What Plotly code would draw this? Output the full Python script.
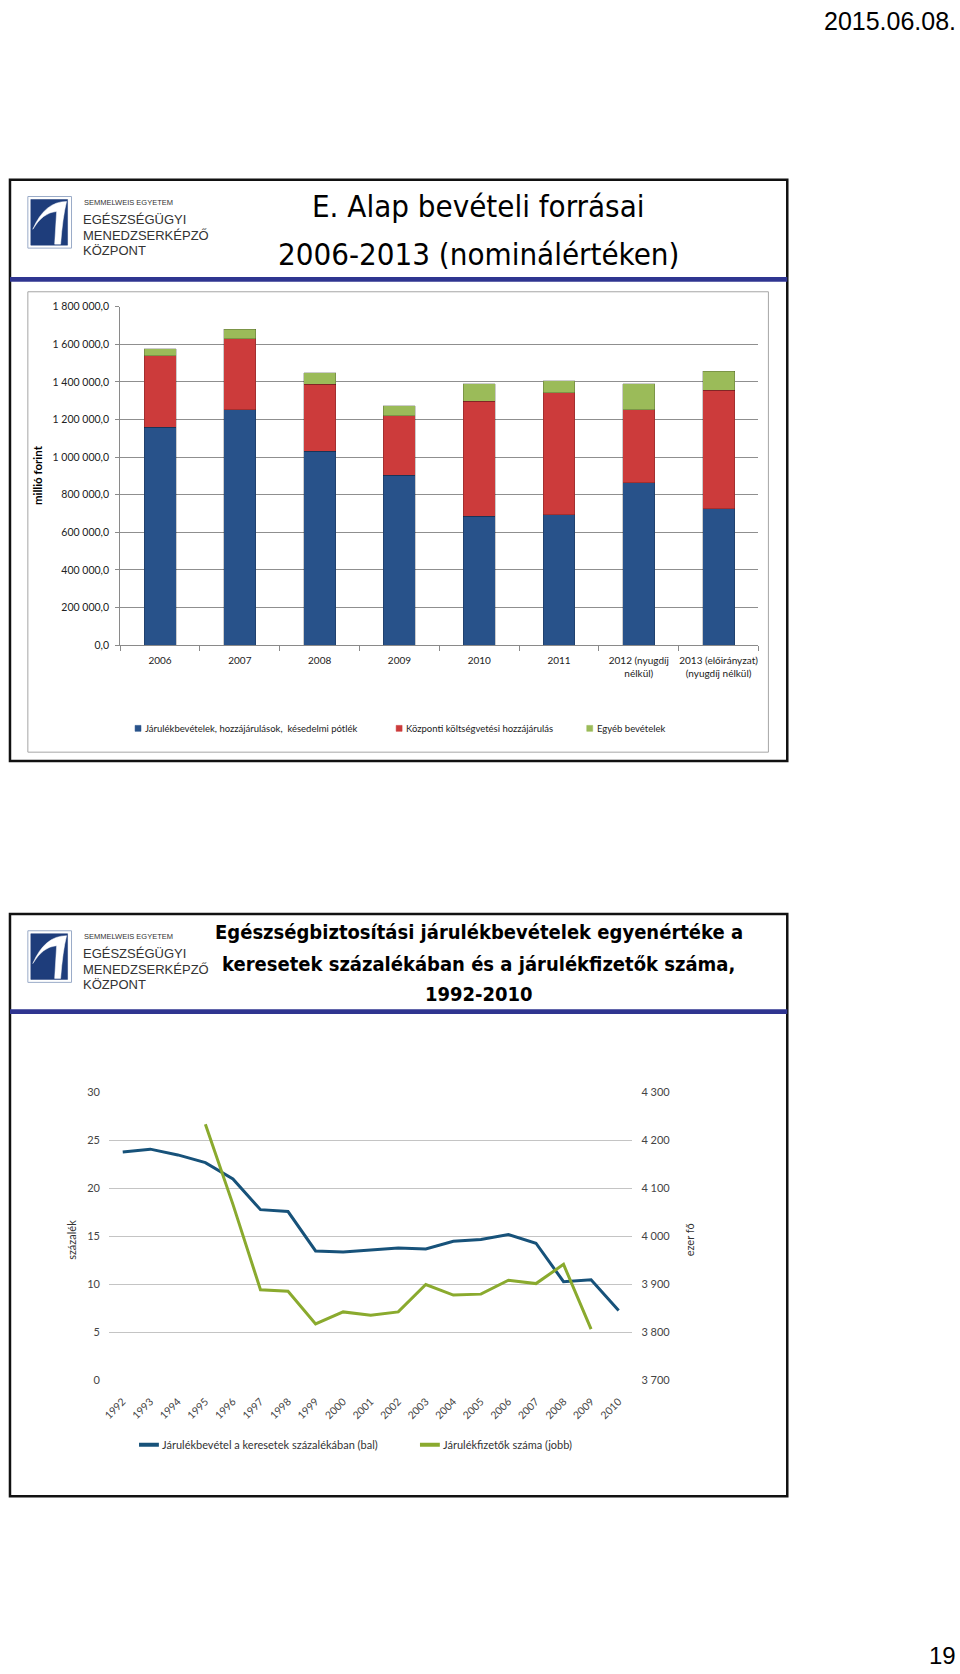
import plotly.graph_objects as go

W, H = 960, 1674
def X(p): return p / W
def Y(p): return 1 - p / H

# ---------------- data: chart 1 (millió forint) ----------------
years1 = ["2006", "2007", "2008", "2009", "2010", "2011",
          "2012 (nyugdíj<br>nélkül)", "2013 (előirányzat)<br>(nyugdíj nélkül)"]
jarulek = [1158000, 1252000, 1031000, 903000, 684000, 693000, 863000, 725000]
kozponti = [382000, 376000, 355000, 316000, 614000, 649000, 388000, 629000]
egyeb = [35000, 51000, 63000, 55000, 93000, 65000, 140000, 102000]
names1 = ["Járulékbevételek, hozzájárulások,  késedelmi pótlék",
          "Központi költségvetési hozzájárulás", "Egyéb bevételek"]

# ---------------- data: chart 2 ----------------
years2 = ["1992", "1993", "1994", "1995", "1996", "1997", "1998", "1999", "2000", "2001",
          "2002", "2003", "2004", "2005", "2006", "2007", "2008", "2009", "2010"]
szazalek = [23.8, 24.1, 23.5, 22.7, 21.0, 17.8, 17.6, 13.5, 13.4, 13.6,
            13.8, 13.7, 14.5, 14.7, 15.2, 14.3, 10.3, 10.5, 7.3]
fizetok = [None, None, None, 4234, 4067, 3889, 3886, 3818, 3843, 3836,
           3843, 3900, 3878, 3880, 3909, 3902, 3942, 3807, None]
names2 = ["Járulékbevétel a keresetek százalékában (bal)", "Járulékfizetők száma (jobb)"]

C_BLUE, C_RED, C_GREEN = "#28528A", "#CC3B3B", "#9BBB59"
C_L1, C_L2 = "#17527A", "#8AAA2E"

NARROW = "Liberation Sans Narrow, Arial Narrow, DejaVu Sans Condensed, sans-serif"
CAL = "Lato, Carlito, Calibri, sans-serif"
ARIAL = "Liberation Sans, Arial, sans-serif"

fig = go.Figure()
for vals, col, nm in [(jarulek, C_BLUE, names1[0]), (kozponti, C_RED, names1[1]), (egyeb, C_GREEN, names1[2])]:
    fig.add_trace(go.Bar(x=years1, y=vals, name=nm,
                         marker=dict(color=col, line=dict(color="rgba(0,0,0,0.25)", width=0.8)),
                         xaxis="x", yaxis="y", showlegend=False))

fig.add_trace(go.Scatter(x=years2, y=szazalek, name=names2[0], mode="lines",
                         line=dict(color=C_L1, width=3), xaxis="x2", yaxis="y2", showlegend=False))
fig.add_trace(go.Scatter(x=years2, y=fizetok, name=names2[1], mode="lines",
                         line=dict(color=C_L2, width=3), xaxis="x2", yaxis="y3", showlegend=False))

shapes, ann = [], []

def rect(x0, y0, x1, y1, line="#111", lw=1, fill=None, layer="above"):
    d = dict(type="rect", xref="paper", yref="paper", x0=X(x0), x1=X(x1), y0=Y(y0), y1=Y(y1),
             line=dict(color=line, width=lw), layer=layer)
    if fill:
        d["fillcolor"] = fill
    shapes.append(d)

def text(x, y, s, size, color="#000", family=NARROW, xanchor="left", yanchor="middle", textangle=0):
    ann.append(dict(xref="paper", yref="paper", x=X(x), y=Y(y), text=s, showarrow=False,
                    xanchor=xanchor, yanchor=yanchor, textangle=textangle,
                    font=dict(size=size, color=color, family=family)))

def path(cmds, dy):
    out = []
    for c in cmds:
        if isinstance(c, str):
            out.append(c)
        else:
            out.append("{:.5f},{:.5f}".format(X(c[0]), Y(c[1] + dy)))
    return " ".join(out)

def logo(dy):
    rect(21, 191 + dy, 65, 243 + dy, line="#9aabc8", lw=1, layer="below")
    rect(24, 194 + dy, 61, 240 + dy, line="#1e3d7b", lw=0.5, fill="#1e3d7b", layer="below")
    # white swoosh (bird-like crescent with a tail)
    p = path(["M", (60, 196), "Q", (38, 196), (26, 224), "Q", (36, 207), (50, 206),
              "L", (48, 239), "L", (54, 239), "Q", (56, 212), (60, 196), "Z"], dy)
    shapes.append(dict(type="path", xref="paper", yref="paper", path=p, fillcolor="white",
                       line=dict(color="white", width=0.5), layer="below"))
    text(76, 197 + dy, "SEMMELWEIS EGYETEM", 7.5, "#333", ARIAL)
    text(75, 214 + dy, "EGÉSZSÉGÜGYI", 13, "#333", ARIAL)
    text(75, 230 + dy, "MENEDZSERKÉPZŐ", 13, "#333", ARIAL)
    text(75, 245 + dy, "KÖZPONT", 13, "#333", ARIAL)

# page texts
text(958, 14, "2015.06.08.", 25, "#000", ARIAL, xanchor="right")
text(958, 1661, "19", 24, "#000", ARIAL, xanchor="right")

# ---------- slide 1 ----------
rect(3, 174, 786, 760, line="#111", lw=2.5)
rect(3, 272, 786, 277, line="#2f3590", lw=0, fill="#2f3590")
logo(0)
text(475, 201, "E. Alap bevételi forrásai", 31, "#000", xanchor="center")
text(475, 249, "2006-2013 (nominálértéken)", 31, "#000", xanchor="center")
rect(21, 287, 767, 751, line="#a6a6a6", lw=1, layer="below")
text(31, 472, "<b>millió forint</b>", 11.5, "#000", CAL, xanchor="center", textangle=-90)
for (x0, col, nm) in [(129, C_BLUE, names1[0]), (392, C_RED, names1[1]), (584, C_GREEN, names1[2])]:
    rect(x0, 724, x0 + 6, 730, line=col, lw=0.5, fill=col)
    text(x0 + 8, 727, nm, 9.5, "#222", CAL)

# ---------- slide 2 ----------
rect(3, 914, 786, 1501, line="#111", lw=2.5)
rect(3, 1010, 786, 1015, line="#2f3590", lw=0, fill="#2f3590")
logo(740)
text(475, 932, "<b>Egészségbiztosítási járulékbevételek egyenértéke a</b>", 20, "#000", xanchor="center")
text(475, 964, "<b>keresetek százalékában és a járulékfizetők száma,</b>", 20, "#000", xanchor="center")
text(475, 995, "<b>1992-2010</b>", 20, "#000", xanchor="center")
text(65, 1243, "százalék", 11, "#333", CAL, xanchor="center", textangle=-90)
text(687, 1242, "ezer fő", 11, "#333", CAL, xanchor="center", textangle=-90)
for (x0, col, nm) in [(133, C_L1, names2[0]), (416, C_L2, names2[1])]:
    shapes.append(dict(type="line", xref="paper", yref="paper", x0=X(x0), x1=X(x0 + 20), y0=Y(1449), y1=Y(1449),
                       line=dict(color=col, width=4)))
    text(x0 + 21, 1449, nm, 11, "#333", CAL)

fig.update_layout(
    width=W, height=H, autosize=False, margin=dict(l=0, r=0, t=0, b=0),
    paper_bgcolor="white", plot_bgcolor="white", barmode="stack", bargap=0.6,
    separators=", ", showlegend=False,
    shapes=shapes, annotations=ann,
    xaxis=dict(domain=[X(114), X(757)], anchor="y", type="category", showline=True, linecolor="#8a8a8a",
               ticks="outside", tickson="boundaries", ticklen=5, tickcolor="#8a8a8a", tickangle=0,
               tickfont=dict(size=10, color="#222", family=CAL), ticklabelstandoff=6, showgrid=False),
    yaxis=dict(domain=[Y(643), Y(302)], anchor="x", range=[0, 1800000], dtick=200000, tickformat=",.1f",
               showgrid=True, gridcolor="#8f8f8f", gridwidth=1, showline=True, linecolor="#8a8a8a",
               ticks="outside", ticklen=4, tickcolor="#8a8a8a", zeroline=False,
               tickfont=dict(size=10.5, color="#222", family=CAL), ticklabelstandoff=4),
    xaxis2=dict(domain=[X(102.7), X(630)], anchor="y2", type="category", range=[-0.5, 18.5],
                tickangle=-45, showline=False, ticks="", showgrid=False,
                tickfont=dict(size=10.5, color="#444", family=CAL), ticklabelstandoff=12),
    yaxis2=dict(domain=[Y(1384.3), Y(1094)], anchor="x2", range=[0, 30], dtick=5,
                showgrid=True, gridcolor="#c4c4c4", gridwidth=1.2, zeroline=False, showline=False,
                tickfont=dict(size=11, color="#444", family=CAL), ticklabelstandoff=8),
    yaxis3=dict(overlaying="y2", side="right", anchor="x2", range=[3700, 4300], dtick=100, tickformat=",d",
                showgrid=False, zeroline=False, showline=False,
                tickfont=dict(size=11, color="#444", family=CAL), ticklabelstandoff=8),
)

fig.write_html("out.html", config={"displayModeBar": False},
               post_script="document.body.style.margin='0';document.body.style.overflow='hidden';"
                           "document.documentElement.style.overflow='hidden';")
